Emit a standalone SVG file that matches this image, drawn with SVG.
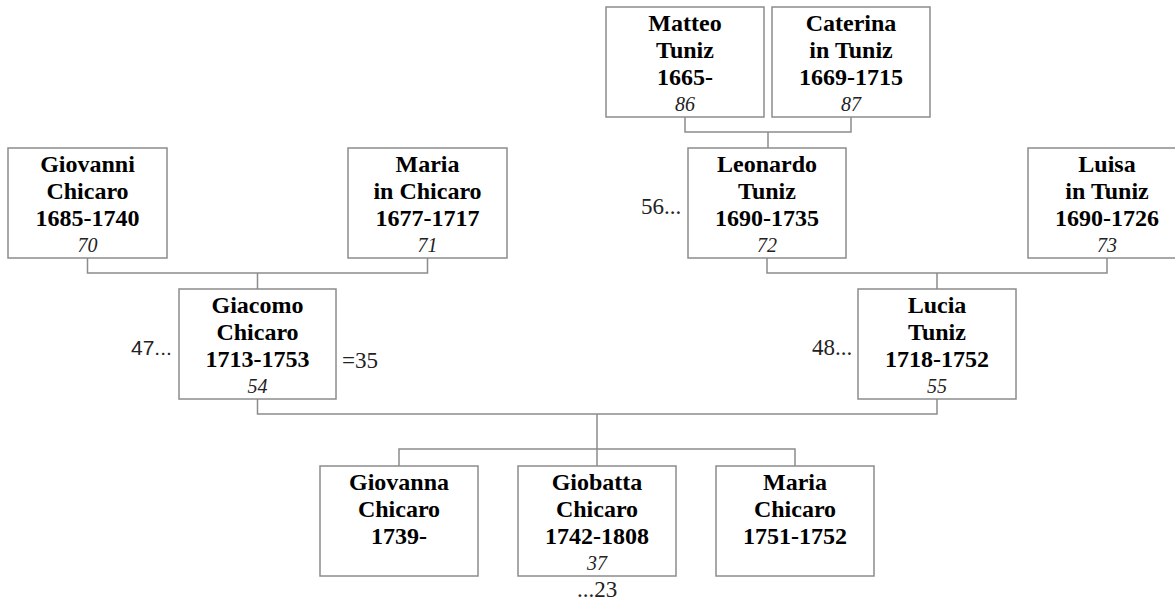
<svg xmlns="http://www.w3.org/2000/svg" width="1175" height="603" viewBox="0 0 1175 603">
<style>
.box{fill:#fff;stroke:#8c8c8c;stroke-width:1.5}
.con{fill:none;stroke:#8c8c8c;stroke-width:1.5}
.nm{font-family:"Liberation Serif","Times New Roman",serif;font-size:24px;font-weight:bold;text-anchor:middle;fill:#000}
.id{font-family:"Liberation Serif","Times New Roman",serif;font-size:20px;font-style:italic;text-anchor:middle;fill:#222}
.side{font-family:"Liberation Serif","Times New Roman",serif;font-size:23px;fill:#222}
.sans{font-family:"Liberation Sans",Arial,sans-serif;font-size:21px;fill:#222}
</style>
<rect width="1175" height="603" fill="#fff"/>
<g id="connectors">
<path class="con" d="M685,117V132H851V117M768,132V148"/>
<path class="con" d="M87.5,258V273H427.5V258M257.5,273V289"/>
<path class="con" d="M767,258V273H1107V258M937,273V289"/>
<path class="con" d="M257.5,399V414H937V399M597,414V466M399,466V449H795V466"/>
</g>
<g id="matteo"><rect class="box" x="606" y="7" width="158" height="110"/>
<text class="nm" x="685" y="31">Matteo</text><text class="nm" x="685" y="58">Tuniz</text><text class="nm" x="685" y="85">1665-</text><text class="id" x="685" y="111">86</text></g>
<g id="caterina"><rect class="box" x="772" y="7" width="158" height="110"/>
<text class="nm" x="851" y="31">Caterina</text><text class="nm" x="851" y="58">in Tuniz</text><text class="nm" x="851" y="85">1669-1715</text><text class="id" x="851" y="111">87</text></g>
<g id="giovanni"><rect class="box" x="8" y="148" width="159" height="110"/>
<text class="nm" x="87.5" y="172">Giovanni</text><text class="nm" x="87.5" y="199">Chicaro</text><text class="nm" x="87.5" y="226">1685-1740</text><text class="id" x="87.5" y="252">70</text></g>
<g id="maria-in-chicaro"><rect class="box" x="348" y="148" width="159" height="110"/>
<text class="nm" x="427.5" y="172">Maria</text><text class="nm" x="427.5" y="199">in Chicaro</text><text class="nm" x="427.5" y="226">1677-1717</text><text class="id" x="427.5" y="252">71</text></g>
<g id="leonardo"><rect class="box" x="688" y="148" width="158" height="110"/>
<text class="nm" x="767" y="172">Leonardo</text><text class="nm" x="767" y="199">Tuniz</text><text class="nm" x="767" y="226">1690-1735</text><text class="id" x="767" y="252">72</text>
<text class="side" x="641" y="214">56...</text></g>
<g id="luisa"><rect class="box" x="1028" y="148" width="158" height="110"/>
<text class="nm" x="1107" y="172">Luisa</text><text class="nm" x="1107" y="199">in Tuniz</text><text class="nm" x="1107" y="226">1690-1726</text><text class="id" x="1107" y="252">73</text></g>
<g id="giacomo"><rect class="box" x="179" y="289" width="157" height="110"/>
<text class="nm" x="257.5" y="313">Giacomo</text><text class="nm" x="257.5" y="340">Chicaro</text><text class="nm" x="257.5" y="367">1713-1753</text><text class="id" x="257.5" y="393">54</text>
<text class="sans" x="131" y="355">47...</text><text class="side" x="342" y="368">=35</text></g>
<g id="lucia"><rect class="box" x="858" y="289" width="158" height="110"/>
<text class="nm" x="937" y="313">Lucia</text><text class="nm" x="937" y="340">Tuniz</text><text class="nm" x="937" y="367">1718-1752</text><text class="id" x="937" y="393">55</text>
<text class="side" x="812" y="355">48...</text></g>
<g id="giovanna"><rect class="box" x="320" y="466" width="158" height="110"/>
<text class="nm" x="399" y="490">Giovanna</text><text class="nm" x="399" y="517">Chicaro</text><text class="nm" x="399" y="544">1739-</text></g>
<g id="giobatta"><rect class="box" x="518" y="466" width="158" height="110"/>
<text class="nm" x="597" y="490">Giobatta</text><text class="nm" x="597" y="517">Chicaro</text><text class="nm" x="597" y="544">1742-1808</text><text class="id" x="597" y="570">37</text>
<text class="side" x="597" y="597" text-anchor="middle">...23</text></g>
<g id="maria-chicaro"><rect class="box" x="716" y="466" width="158" height="110"/>
<text class="nm" x="795" y="490">Maria</text><text class="nm" x="795" y="517">Chicaro</text><text class="nm" x="795" y="544">1751-1752</text></g>
</svg>
